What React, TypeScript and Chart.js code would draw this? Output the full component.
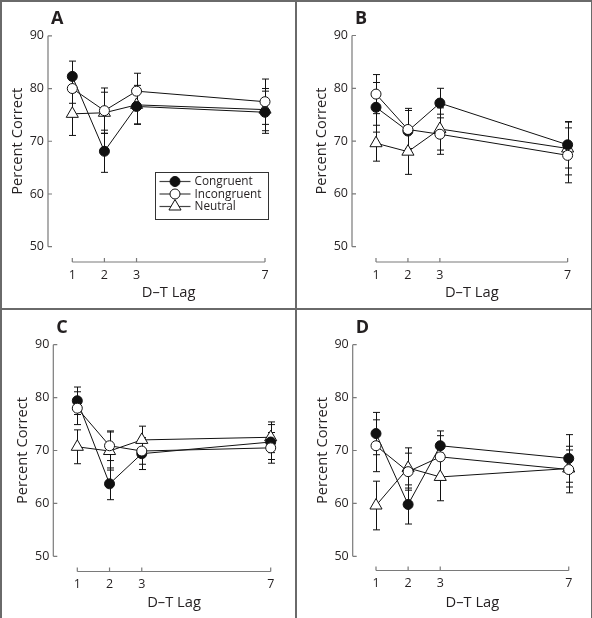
import React, { useEffect, useRef } from "react";
import { Chart, registerables } from "chart.js";

Chart.register(...registerables);

// ---------- data ----------
const lags = [1, 2, 3, 7];
const yTickValues = [50, 60, 70, 80, 90];
const seriesNames = ["Congruent", "Incongruent", "Neutral"];
const xAxisTitle = "D–T Lag";
const yAxisTitle = "Percent Correct";
const panelLabels = ["A", "B", "C", "D"];

// Panel A
const congruentA = [82.3, 68.1, 76.6, 75.5];
const congruentErrA = [2.9, 4.0, 3.3, 4.0];
const incongruentA = [80.0, 75.8, 79.5, 77.5];
const incongruentErrA = [2.8, 4.3, 3.4, 4.3];
const neutralA = [75.2, 75.4, 76.9, 76.0];
const neutralErrA = [4.1, 3.9, 3.7, 4.0];

// Panel B
const congruentB = [76.4, 71.9, 77.2, 69.3];
const congruentErrB = [4.7, 4.3, 2.8, 4.4];
const incongruentB = [78.9, 72.2, 71.3, 67.3];
const incongruentErrB = [3.7, 3.6, 3.8, 5.2];
const neutralB = [69.6, 68.0, 72.3, 68.6];
const neutralErrB = [3.4, 4.3, 4.0, 5.0];

// Panel C
const congruentC = [79.4, 63.7, 69.4, 71.6];
const congruentErrC = [2.6, 3.0, 3.0, 3.3];
const incongruentC = [78.0, 70.9, 69.9, 70.5];
const incongruentErrC = [3.1, 2.8, 2.5, 2.9];
const neutralC = [70.7, 69.9, 72.0, 72.5];
const neutralErrC = [3.2, 3.6, 2.6, 2.9];

// Panel D
const congruentD = [73.2, 59.8, 70.9, 68.5];
const congruentErrD = [4.0, 3.7, 2.8, 4.5];
const incongruentD = [70.9, 66.0, 68.8, 66.4];
const incongruentErrD = [4.9, 3.5, 4.0, 4.4];
const neutralD = [59.6, 66.7, 65.0, 66.6];
const neutralErrD = [4.6, 3.8, 4.5, 3.5];

const panelMeans = [
  [congruentA, incongruentA, neutralA],
  [congruentB, incongruentB, neutralB],
  [congruentC, incongruentC, neutralC],
  [congruentD, incongruentD, neutralD],
];
const panelErrors = [
  [congruentErrA, incongruentErrA, neutralErrA],
  [congruentErrB, incongruentErrB, neutralErrB],
  [congruentErrC, incongruentErrC, neutralErrC],
  [congruentErrD, incongruentErrD, neutralErrD],
];

// ---------- layout & style ----------
const FONT = "'Open Sans', sans-serif";
const TEXT = "#231f20";
const AXIS = "#7a7a7a";
const BORDER = "#6a6a6a";

type Layout = {
  left: number; top: number; w: number; h: number;
  axisX: number; x1: number; x7: number; yTop: number; yBot: number; xAxisY: number;
};
const layouts: Layout[] = [
  { left: 0, top: 0, w: 296, h: 308, axisX: 48, x1: 72.3, x7: 265, yTop: 35, yBot: 246.7, xAxisY: 262 },
  { left: 296, top: 0, w: 296, h: 308, axisX: 56, x1: 80, x7: 273.3, yTop: 35, yBot: 246.7, xAxisY: 262 },
  { left: 0, top: 308, w: 296, h: 310, axisX: 53.3, x1: 77.3, x7: 270.7, yTop: 36.7, yBot: 248.3, xAxisY: 263.5 },
  { left: 296, top: 308, w: 296, h: 310, axisX: 56.7, x1: 80, x7: 273.3, yTop: 36.7, yBot: 248.3, xAxisY: 262.5 },
];

const seriesStyles = [
  { pointStyle: "circle", radius: 5, fill: "#111111" },
  { pointStyle: "circle", radius: 5, fill: "#ffffff" },
  { pointStyle: "triangle", radius: 7, fill: "#ffffff" },
];
const drawOrder = [1, 0, 2];

function drawMarker(ctx: CanvasRenderingContext2D, style: string, x: number, y: number, r: number, fill: string) {
  ctx.save();
  ctx.beginPath();
  if (style === "triangle") {
    let rad = 0;
    ctx.moveTo(x + Math.sin(rad) * r, y - Math.cos(rad) * r);
    rad += (2 * Math.PI) / 3;
    ctx.lineTo(x + Math.sin(rad) * r, y - Math.cos(rad) * r);
    rad += (2 * Math.PI) / 3;
    ctx.lineTo(x + Math.sin(rad) * r, y - Math.cos(rad) * r);
    ctx.closePath();
  } else {
    ctx.arc(x, y, r, 0, Math.PI * 2);
  }
  ctx.fillStyle = fill;
  ctx.fill();
  ctx.lineWidth = 1;
  ctx.strokeStyle = "#111111";
  ctx.stroke();
  ctx.restore();
}

const decorPlugin = {
  id: "panelDecor",
  beforeDatasetsDraw(chart: any, _args: any, opts: any) {
    const { ctx, scales } = chart;
    const xs = scales.x;
    const ys = scales.y;
    ctx.save();
    ctx.strokeStyle = "#111111";
    ctx.lineWidth = 1;
    chart.data.datasets.forEach((ds: any) => {
      ds.data.forEach((pt: any, i: number) => {
        const e = ds.errors[i];
        const px = Math.round(xs.getPixelForValue(pt.x)) + 0.5;
        const top = ys.getPixelForValue(pt.y + e);
        const bot = ys.getPixelForValue(pt.y - e);
        ctx.beginPath();
        ctx.moveTo(px, top);
        ctx.lineTo(px, bot);
        ctx.moveTo(px - 3.5, top);
        ctx.lineTo(px + 3.5, top);
        ctx.moveTo(px - 3.5, bot);
        ctx.lineTo(px + 3.5, bot);
        ctx.stroke();
      });
    });
    ctx.restore();
  },
  afterDraw(chart: any, _args: any, opts: any) {
    const { ctx, scales } = chart;
    const xs = scales.x;
    const ys = scales.y;
    const area = chart.chartArea;
    const ax = area.left - opts.yAxisGap;
    const ay = area.bottom + opts.xAxisGap;
    ctx.save();
    ctx.strokeStyle = AXIS;
    ctx.lineWidth = 1.2;
    // y axis
    ctx.beginPath();
    ctx.moveTo(ax, ys.getPixelForValue(yTickValues[yTickValues.length - 1]));
    ctx.lineTo(ax, ys.getPixelForValue(yTickValues[0]));
    yTickValues.forEach((v) => {
      const py = ys.getPixelForValue(v);
      ctx.moveTo(ax, py);
      ctx.lineTo(ax + 4, py);
    });
    // x axis
    ctx.moveTo(xs.getPixelForValue(lags[0]), ay);
    ctx.lineTo(xs.getPixelForValue(lags[lags.length - 1]), ay);
    lags.forEach((v) => {
      const px = xs.getPixelForValue(v);
      ctx.moveTo(px, ay);
      ctx.lineTo(px, ay - 4);
    });
    ctx.stroke();

    // panel label
    ctx.fillStyle = TEXT;
    ctx.font = `bold 18px ${FONT}`;
    ctx.textBaseline = "middle";
    ctx.textAlign = "left";
    ctx.fillText(opts.label, ax + 3, area.top - 17);

    // legend
    if (opts.legend) {
      const lg = opts.legend;
      ctx.strokeStyle = "#333333";
      ctx.lineWidth = 1;
      ctx.strokeRect(lg.x, lg.y, lg.w, lg.h);
      seriesNames.forEach((name, i) => {
        const cy = lg.y + 9 + i * 12.5;
        ctx.strokeStyle = "#444444";
        ctx.lineWidth = 1.2;
        ctx.beginPath();
        ctx.moveTo(lg.x + 4, cy);
        ctx.lineTo(lg.x + 35, cy);
        ctx.stroke();
        const st = seriesStyles[i];
        drawMarker(ctx, st.pointStyle, lg.x + 19.5, cy, st.radius, st.fill);
        ctx.fillStyle = TEXT;
        ctx.font = `11.8px ${FONT}`;
        ctx.textBaseline = "middle";
        ctx.fillText(name, lg.x + 39, cy + 0.5);
      });
    }
    ctx.restore();
  },
};

function Panel({ index }: { index: number }) {
  const ref = useRef<HTMLCanvasElement | null>(null);
  const L = layouts[index];
  useEffect(() => {
    if (!ref.current) return;
    const datasets = seriesNames.map((name, si) => {
      const st = seriesStyles[si];
      return {
        label: name,
        data: lags.map((x, i) => ({ x, y: panelMeans[index][si][i] })),
        errors: panelErrors[index][si],
        order: drawOrder[si],
        borderColor: "#111111",
        borderWidth: 1,
        tension: 0,
        fill: false,
        pointStyle: st.pointStyle,
        pointRadius: st.radius,
        pointHoverRadius: st.radius,
        pointBackgroundColor: st.fill,
        pointBorderColor: "#111111",
        pointBorderWidth: 1,
        clip: false,
      };
    });
    const titleLH = 1.2;
    const titleSize = 14.7;
    const chart = new Chart(ref.current, {
      type: "line",
      data: { datasets } as any,
      plugins: [decorPlugin as any],
      options: {
        animation: false,
        responsive: false,
        events: [],
        layout: { padding: { left: 0, right: L.w - L.x7, top: L.yTop, bottom: 0 } },
        plugins: {
          legend: { display: false },
          tooltip: { enabled: false },
          panelDecor: {
            label: panelLabels[index],
            yAxisGap: L.x1 - L.axisX,
            xAxisGap: L.xAxisY - L.yBot,
            legend: index === 0 ? { x: 155.5, y: 172.5, w: 113, h: 47 } : null,
          },
        } as any,
        scales: {
          x: {
            type: "linear",
            min: lags[0],
            max: lags[lags.length - 1],
            afterBuildTicks: (s: any) => {
              s.ticks = lags.map((v) => ({ value: v }));
            },
            afterFit: (s: any) => {
              s.height = L.h - L.yBot;
            },
            grid: { display: false, drawTicks: false },
            border: { display: false },
            ticks: {
              autoSkip: false,
              maxRotation: 0,
              padding: L.xAxisY - L.yBot + 5.5,
              color: TEXT,
              font: { family: FONT, size: 12.5 },
            },
            title: {
              display: true,
              text: xAxisTitle,
              color: TEXT,
              font: { family: FONT, size: titleSize, lineHeight: titleLH },
              padding: { top: 0, bottom: 6.5 },
            },
          },
          y: {
            type: "linear",
            min: yTickValues[0],
            max: yTickValues[yTickValues.length - 1],
            afterBuildTicks: (s: any) => {
              s.ticks = yTickValues.map((v) => ({ value: v }));
            },
            afterFit: (s: any) => {
              s.width = L.x1;
            },
            grid: { display: false, drawTicks: false },
            border: { display: false },
            ticks: {
              autoSkip: false,
              padding: L.x1 - L.axisX + 4,
              color: TEXT,
              font: { family: FONT, size: 12.5 },
            },
            title: {
              display: true,
              text: yAxisTitle,
              color: TEXT,
              font: { family: FONT, size: titleSize, lineHeight: titleLH },
              padding: { top: L.axisX - 30 - (titleSize * titleLH) / 2, bottom: 0 },
            },
          },
        },
      } as any,
    });
    return () => chart.destroy();
  }, [index]);
  return (
    <div style={{ position: "absolute", left: L.left, top: L.top, width: L.w, height: L.h }}>
      <canvas ref={ref} width={L.w} height={L.h} style={{ display: "block", width: L.w, height: L.h }} />
    </div>
  );
}

export default function App() {
  useEffect(() => {
    document.body.style.margin = "0";
  }, []);
  const line = (s: React.CSSProperties) => (
    <div style={{ position: "absolute", background: BORDER, ...s }} />
  );
  return (
    <div style={{ position: "relative", width: 592, height: 618, background: "#ffffff", overflow: "hidden" }}>
      {panelLabels.map((_, i) => (
        <Panel key={i} index={i} />
      ))}
      {line({ left: 0, top: 0, width: 592, height: 1.5 })}
      {line({ left: 0, top: 0, width: 1.5, height: 618 })}
      {line({ left: 590.5, top: 0, width: 1.5, height: 618 })}
      {line({ left: 295, top: 0, width: 2, height: 618 })}
      {line({ left: 0, top: 308, width: 592, height: 2 })}
    </div>
  );
}
